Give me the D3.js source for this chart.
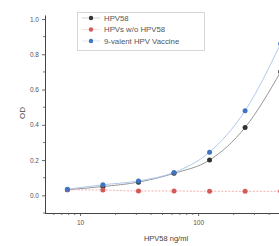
<!DOCTYPE html>
<html>
<head>
<meta charset="utf-8">
<style>
body { margin: 0; background: #fff; }
svg { display: block; font-family: "Liberation Sans", Arial, sans-serif; }
</style>
</head>
<body>
<svg width="279" height="246"></svg>
<script src="https://cdn.jsdelivr.net/npm/d3@7/dist/d3.min.js"></script>
<script>

// concentrations (ng/ml)
var conc = [7.8125, 15.625, 31.25, 62.5, 125, 250, 500];
var seriesNames = ["HPV58", "HPVs w/o HPV58", "9-valent HPV Vaccine"];
var hpv58 = [0.032, 0.05, 0.075, 0.125, 0.20, 0.385, 0.70];
var hpvNo58 = [0.032, 0.03, 0.025, 0.025, 0.023, 0.023, 0.023];
var nineValent = [0.035, 0.06, 0.082, 0.13, 0.245, 0.48, 0.86];
var yTicks = [0.0, 0.2, 0.4, 0.6, 0.8, 1.0];
var xTickLabels = [10, 100];

var colors = ["#333333", "#d45a5a", "#3f74c0"];
var fitColors = ["#8a8a8a", "#f3a6a6", "#a9c4ea"];
var allSeries = [hpv58, hpvNo58, nineValent];

var svg = d3.select("svg");

var x = d3.scaleLog().domain([5, 600]).range([44.5, 290]);
var y = d3.scaleLinear().domain([-0.1, 1.0]).range([213, 19]);

// axes
var xAxis = svg.append("g")
    .attr("transform", "translate(0,213)")
    .call(d3.axisBottom(x).tickValues(xTickLabels).tickFormat(d3.format("d")).tickSize(3).tickSizeOuter(0));

var minorX = [6, 7, 8, 9, 20, 30, 40, 50, 60, 70, 80, 90, 200, 300, 400, 500];
svg.append("g").selectAll("line")
  .data(minorX)
  .enter().append("line")
    .attr("x1", function(d) { return x(d); })
    .attr("x2", function(d) { return x(d); })
    .attr("y1", 213).attr("y2", 215)
    .attr("stroke", "#555").attr("stroke-width", 0.8);

var yAxis = svg.append("g")
    .attr("transform", "translate(45,0)")
    .call(d3.axisLeft(y).tickValues(yTicks).tickFormat(d3.format(".1f")).tickSize(3).tickSizeOuter(0));

svg.append("g").selectAll("line")
  .data([-0.1, 0.1, 0.3, 0.5, 0.7, 0.9])
  .enter().append("line")
    .attr("x1", 43).attr("x2", 45)
    .attr("y1", function(d) { return y(d); })
    .attr("y2", function(d) { return y(d); })
    .attr("stroke", "#555").attr("stroke-width", 0.8);

[xAxis, yAxis].forEach(function(a) {
  a.select(".domain").attr("stroke", "#444").attr("stroke-width", 1);
  a.selectAll(".tick line").attr("stroke", "#444").attr("stroke-width", 0.8);
  a.selectAll("text").attr("fill", "#555").attr("font-size", 6.5);
});
yAxis.select(".domain").attr("d", "M0.5," + y(1.02) + "V213");
xAxis.selectAll("text").attr("dy", "0.9em");

// axis titles
svg.append("text")
    .attr("transform", "translate(25,113) rotate(-90)")
    .attr("text-anchor", "middle")
    .attr("font-size", 8)
    .attr("fill", "#444")
    .text("OD");

svg.append("text")
    .attr("x", 166).attr("y", 241)
    .attr("text-anchor", "middle")
    .attr("font-size", 7.5)
    .attr("fill", "#444")
    .text("HPV58 ng/ml");

// fitted curves
var line = d3.line()
    .x(function(d) { return x(d[0]); })
    .y(function(d) { return y(d[1]); })
    .curve(d3.curveMonotoneX);

allSeries.forEach(function(s, i) {
  svg.append("path")
      .datum(conc.map(function(c, j) { return [c, s[j]]; }))
      .attr("fill", "none")
      .attr("stroke", fitColors[i])
      .attr("stroke-width", 0.9)
      .attr("stroke-dasharray", i === 1 ? "2,1.5" : null)
      .attr("d", line);
});

// points
allSeries.forEach(function(s, i) {
  svg.append("g").selectAll("circle")
    .data(conc.map(function(c, j) { return [c, s[j]]; }))
    .enter().append("circle")
      .attr("cx", function(d) { return x(d[0]); })
      .attr("cy", function(d) { return y(d[1]); })
      .attr("r", 2.5)
      .attr("fill", colors[i]);
});

// legend
var legend = svg.append("g");
legend.append("rect")
    .attr("x", 77.5).attr("y", 12.5)
    .attr("width", 127).attr("height", 38)
    .attr("fill", "#fff")
    .attr("stroke", "#ccc")
    .attr("stroke-width", 0.8);

var items = legend.selectAll("g.item")
  .data(seriesNames)
  .enter().append("g")
    .attr("transform", function(d, i) { return "translate(0," + (18 + i * 11.5) + ")"; });

items.append("line")
    .attr("x1", 82).attr("x2", 100)
    .attr("stroke", function(d, i) { return fitColors[i]; })
    .attr("stroke-width", 0.6)
    .attr("opacity", 0.6);

items.append("circle")
    .attr("cx", 91).attr("r", 2.2)
    .attr("fill", function(d, i) { return colors[i]; });

items.append("text")
    .attr("x", 104)
    .attr("dy", "0.35em")
    .attr("font-size", 7.8)
    .attr("fill", "#555")
    .text(function(d) { return d; });

</script>
</body>
</html>
